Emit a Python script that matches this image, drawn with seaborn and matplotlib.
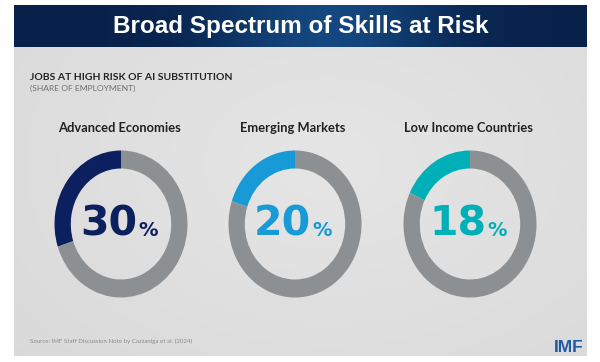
import numpy as np
import seaborn as sns
import matplotlib.pyplot as plt

# ---- data ----
categories = ["Advanced Economies", "Emerging Markets", "Low Income Countries"]
shares = [30, 20, 18]
colors = ["#0c1f5e", "#189ad7", "#00b0b8"]
rest_color = "#8d9093"

title = "Broad Spectrum of Skills at Risk"
subtitle = "JOBS AT HIGH RISK OF AI SUBSTITUTION"
subsub = "(SHARE OF EMPLOYMENT)"
source = "Source: IMF Staff Discussion Note by Cazzaniga et al. (2024)"

sns.set_theme(style="white")
plt.rcParams["font.family"] = ["Lato", "DejaVu Sans"]

W, H = 600, 362
fig = plt.figure(figsize=(W / 100, H / 100), dpi=100)
fig.patch.set_facecolor("white")

# background axes in pixel coordinates
bg = fig.add_axes([0, 0, 1, 1])
bg.set_xlim(0, W)
bg.set_ylim(H, 0)
bg.axis("off")

# grey panel with a soft lighter centre
px0, px1, py0, py1 = 14, 587, 5, 356
yy, xx = np.mgrid[0:1:60j, 0:1:120j]
r = np.sqrt(((xx - 0.55) / 0.8) ** 2 + ((yy - 0.45) / 0.9) ** 2)
shade = 0.90 - 0.05 * np.clip(r, 0, 1)
panel = np.dstack([shade, shade, shade])
bg.imshow(panel, extent=(px0, px1, py1, py0), aspect="auto", zorder=0, interpolation="bilinear")

# dark blue banner with brighter centre
bx = np.linspace(0, 1, 200)
glow = np.exp(-((bx - 0.55) / 0.2) ** 2)
dark = np.array([0.03, 0.13, 0.29])
light = np.array([0.08, 0.28, 0.50])
banner = dark[None, :] + glow[:, None] * (light - dark)[None, :]
bg.imshow(banner[None, :, :], extent=(px0, px1, 47, py0), aspect="auto", zorder=1, interpolation="bilinear")

bg.text(301, 26, title, color="white", fontsize=17.5, fontweight="bold",
        family=["Liberation Sans", "DejaVu Sans"], ha="center", va="center", zorder=3)

bg.text(30, 80, subtitle, color="#222222", fontsize=7.5, fontweight="bold",
        ha="left", va="baseline", zorder=3)
bg.text(30, 91, subsub, color="#707070", fontsize=6.1, ha="left", va="baseline", zorder=3)

bg.text(30, 342.5, source, color="#8a8a8a", fontsize=4.4, ha="left", va="baseline", zorder=3)
bg.text(584, 352, "IMF", color="#1f5aa8", fontsize=12.5, fontweight="bold",
        family=["Liberation Sans", "DejaVu Sans"], ha="right", va="baseline", zorder=3)

# ---- donuts ----
centers_x = [121, 295, 470]
cy = 224
rx, ry = 66.5, 73.5

for cx, cat, val, col in zip(centers_x, categories, shares, colors):
    ax = fig.add_axes([(cx - rx) / W, (H - (cy + ry)) / H, 2 * rx / W, 2 * ry / H])
    ax.pie([val, 100 - val], colors=[col, rest_color], startangle=90, counterclock=True,
           radius=1, wedgeprops=dict(width=0.245, linewidth=0))
    ax.set_aspect("auto")
    ax.set_xlim(-1, 1)
    ax.set_ylim(-1, 1)
    ax.patch.set_alpha(0)

    bg.text(cx - 2, 132.5, cat, color="#222222", fontsize=9.3, fontweight="bold",
            ha="center", va="baseline", zorder=3)
    bg.text(cx + 16, 235, f"{val}", color=col, fontsize=29.5, fontweight="bold",
            family="DejaVu Sans", ha="right", va="baseline", zorder=3)
    bg.text(cx + 17, 236, "%", color=col, fontsize=14, fontweight="bold",
            family="DejaVu Sans", ha="left", va="baseline", zorder=3)

fig.savefig("out.png", dpi=100)
